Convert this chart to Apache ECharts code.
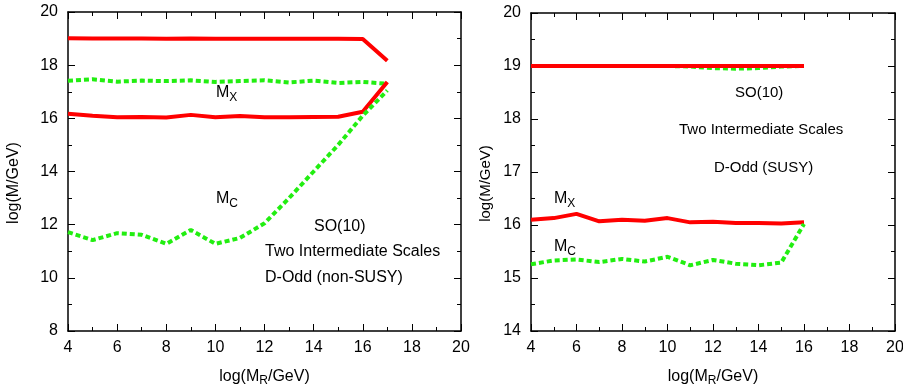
<!DOCTYPE html>
<html>
<head>
<meta charset="utf-8">
<script src="https://cdn.jsdelivr.net/npm/echarts@6/dist/echarts.min.js"></script>
<style>
  html, body { margin: 0; padding: 0; background: #fff; }
  #chart { width: 903px; height: 390px; }
</style>
</head>
<body>
<div id="chart"></div>
<script>
// log(M_R/GeV) values
const leftX = [4, 5, 6, 7, 8, 9, 10, 11, 12, 13, 14, 15, 16, 17]
const rightX = [4, 5, 6, 7, 8, 9, 10, 11, 12, 13, 14, 15, 16]

// left panel: non-SUSY
const leftRedHigh = [19.01, 19.0, 19.0, 19.0, 18.99, 19.0, 18.99, 18.99, 18.99, 18.99, 18.99, 18.99, 18.98, 18.17]
const leftGreenHigh = [17.41, 17.47, 17.38, 17.42, 17.4, 17.43, 17.37, 17.4, 17.43, 17.35, 17.42, 17.33, 17.37, 17.3]
const leftRedLow = [16.17, 16.1, 16.04, 16.05, 16.03, 16.13, 16.04, 16.09, 16.04, 16.04, 16.05, 16.06, 16.25, 17.37]
const leftGreenLow = [11.72, 11.42, 11.68, 11.62, 11.28, 11.8, 11.28, 11.5, 12.05, 13.0, 14.0, 15.0, 16.1, 17.05]

// right panel: SUSY
const rightRedHigh = [19.0, 19.0, 19.0, 19.0, 19.0, 19.0, 19.0, 19.0, 19.0, 19.0, 19.0, 19.0, 19.0]
const rightGreenHigh = [19.0, 19.0, 19.0, 19.0, 19.0, 19.0, 19.0, 18.99, 18.96, 18.95, 18.96, 18.99, 19.0]
const rightRedLow = [16.1, 16.13, 16.21, 16.07, 16.1, 16.08, 16.13, 16.05, 16.06, 16.04, 16.04, 16.03, 16.05]
const rightGreenLow = [15.26, 15.33, 15.35, 15.3, 15.36, 15.31, 15.4, 15.24, 15.34, 15.27, 15.24, 15.29, 16.02]

const FONT = '"Liberation Sans", Arial, sans-serif'
const RED = '#ff0000'
const GREEN = '#22ee11'

const pairs = (xs, ys) => xs.map((x, i) => [x, ys[i]])

const subRich = {
  n: { fontFamily: FONT, fontSize: 16, color: '#000' },
  s: { fontFamily: FONT, fontSize: 12, color: '#000', padding: [9, 0, 0, 0] },
}

function xAxisDef(gridIndex, pos, labels) {
  return {
    type: 'value', gridIndex: gridIndex, position: pos,
    min: 4, max: 20, interval: 2,
    axisLine: { show: true, onZero: false, lineStyle: { color: '#000', width: 1.5 } },
    axisTick: { show: true, inside: true, length: 7, lineStyle: { color: '#000', width: 1 } },
    minorTick: { show: true, splitNumber: 2, length: 4, lineStyle: { color: '#000', width: 1 } },
    splitLine: { show: false },
    axisLabel: { show: labels, color: '#000', fontFamily: FONT, fontSize: 16, margin: 9 },
    name: labels ? 'log(M{s|R}/GeV)' : '',
    nameLocation: 'middle', nameGap: 35,
    nameTextStyle: { fontFamily: FONT, fontSize: 16, color: '#000', rich: subRich },
  }
}

// y names sit a bit below the axis middle, so pad them (text is rotated 90deg)
function yAxisDef(gridIndex, pos, labels, min, interval, gap, nameSize) {
  return {
    type: 'value', gridIndex: gridIndex, position: pos,
    min: min, max: 20, interval: interval,
    axisLine: { show: true, onZero: false, lineStyle: { color: '#000', width: 1.5 } },
    axisTick: { show: true, inside: true, length: 7, lineStyle: { color: '#000', width: 1 } },
    minorTick: { show: true, splitNumber: 2, length: 4, lineStyle: { color: '#000', width: 1 } },
    splitLine: { show: false },
    axisLabel: { show: labels, color: '#000', fontFamily: FONT, fontSize: 16, margin: 10 },
    name: labels ? 'log(M/GeV)' : '',
    nameLocation: 'middle', nameGap: gap, nameRotate: 90,
    nameTextStyle: { fontFamily: FONT, fontSize: nameSize, color: '#000', padding: [0, 23, 0, 0] },
  }
}

function line(name, xi, yi, data, color, dashed) {
  return {
    name: name, type: 'line', xAxisIndex: xi, yAxisIndex: yi,
    data: data, showSymbol: false, symbol: 'none', animation: false,
    lineStyle: { color: color, width: 4, type: dashed ? [5, 3] : 'solid', cap: 'butt' },
  }
}

function label(x, y, txt, size) {
  return { type: 'text', x: x, y: y, style: { text: txt, fontFamily: FONT, fontSize: size || 16, fill: '#000', textVerticalAlign: 'middle' } }
}

function subLabel(x, y, main, sub) {
  return {
    type: 'text', x: x, y: y,
    style: { text: '{n|' + main + '}{s|' + sub + '}', rich: subRich, textVerticalAlign: 'middle' },
  }
}

const chart = echarts.init(document.getElementById('chart'))
chart.setOption({
  backgroundColor: '#fff',
  animation: false,
  grid: [
    { left: 68, top: 12, width: 393, height: 319, outerBoundsMode: 'none' },
    { left: 531, top: 13, width: 364, height: 318, outerBoundsMode: 'none' },
  ],
  xAxis: [
    xAxisDef(0, 'bottom', true),
    xAxisDef(0, 'top', false),
    xAxisDef(1, 'bottom', true),
    xAxisDef(1, 'top', false),
  ],
  yAxis: [
    yAxisDef(0, 'left', true, 8, 2, 46, 16),
    yAxisDef(0, 'right', false, 8, 2, 0, 16),
    yAxisDef(1, 'left', true, 14, 1, 38, 15),
    yAxisDef(1, 'right', false, 14, 1, 0, 15),
  ],
  series: [
    line('left M high', 0, 0, pairs(leftX, leftRedHigh), RED, false),
    line('left MX', 0, 0, pairs(leftX, leftGreenHigh), GREEN, true),
    line('left M low', 0, 0, pairs(leftX, leftRedLow), RED, false),
    line('left MC', 0, 0, pairs(leftX, leftGreenLow), GREEN, true),
    line('right green high', 2, 2, pairs(rightX, rightGreenHigh), GREEN, true),
    line('right red high', 2, 2, pairs(rightX, rightRedHigh), RED, false),
    line('right MX', 2, 2, pairs(rightX, rightRedLow), RED, false),
    line('right MC', 2, 2, pairs(rightX, rightGreenLow), GREEN, true),
  ],
  graphic: [
    subLabel(216, 93, 'M', 'X'),
    subLabel(216, 199, 'M', 'C'),
    label(314, 227, 'SO(10)'),
    label(265, 252, 'Two Intermediate Scales'),
    label(265, 278, 'D-Odd (non-SUSY)'),
    subLabel(554, 199, 'M', 'X'),
    subLabel(554, 247, 'M', 'C'),
    label(735, 93, 'SO(10)', 15),
    label(679, 130, 'Two Intermediate Scales', 15),
    label(714, 168, 'D-Odd (SUSY)', 15),
  ],
})
</script>
</body>
</html>
